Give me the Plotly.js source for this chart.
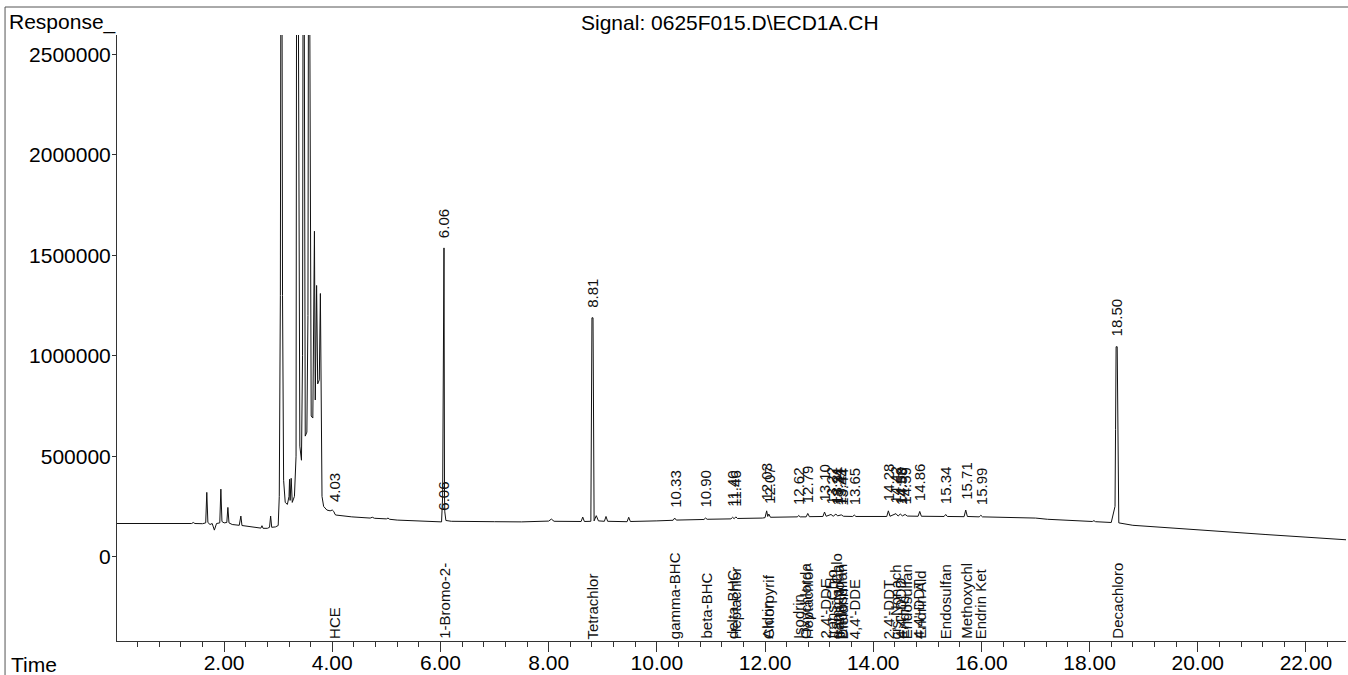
<!DOCTYPE html>
<html>
<head>
<meta charset="utf-8">
<script src="https://cdn.plot.ly/plotly-3.0.1.min.js"></script>
<style>
  html, body { margin: 0; padding: 0; background: #ffffff; }
  #chart { width: 1348px; height: 675px; }
</style>
</head>
<body>
<div id="chart"></div>
<script>
// Retention time (min) and detector response
const rtTime = [
  0.00, 0.50, 1.00, 1.40, 1.43, 1.46, 1.60, 1.66, 1.68, 1.70, 1.74, 1.78, 1.82, 1.86,
  1.92, 1.94, 1.96, 2.00, 2.05, 2.07, 2.09, 2.15, 2.28, 2.31, 2.33, 2.45, 2.60, 2.68,
  2.70, 2.72, 2.80, 2.84, 2.86, 2.88, 2.95, 3.00, 3.02, 3.04, 3.05, 3.07, 3.08, 3.10,
  3.13, 3.17, 3.20, 3.21, 3.22, 3.23, 3.24, 3.26, 3.30, 3.33, 3.34, 3.37, 3.40, 3.43,
  3.45, 3.46, 3.48, 3.50, 3.53, 3.55, 3.56, 3.58, 3.61, 3.64, 3.67, 3.685, 3.71, 3.73,
  3.76, 3.78, 3.79, 3.81, 3.84, 3.90, 3.96, 4.00, 4.03, 4.05, 4.07, 4.12, 4.36, 4.70,
  4.74, 4.78, 5.00, 5.03, 5.06, 5.20, 5.50, 5.89, 6.02, 6.04, 6.055, 6.065, 6.075, 6.08,
  6.10, 6.20, 7.00, 7.50, 8.00, 8.05, 8.10, 8.50, 8.60, 8.63, 8.66, 8.78, 8.80, 8.82,
  8.84, 8.88, 8.92, 9.03, 9.06, 9.09, 9.31, 9.45, 9.48, 9.51, 10.00, 10.30, 10.33, 10.36,
  10.87, 10.90, 10.93, 11.37, 11.40, 11.43, 11.46, 11.49, 11.95, 12.00, 12.03, 12.05, 12.07, 12.10,
  12.60, 12.62, 12.65, 12.76, 12.79, 12.82, 13.07, 13.10, 13.13, 13.22, 13.26, 13.31, 13.34, 13.41,
  13.45, 13.62, 13.65, 13.68, 14.25, 14.28, 14.31, 14.42, 14.46, 14.50, 14.54, 14.59, 14.63, 14.83,
  14.86, 14.89, 15.31, 15.34, 15.37, 15.68, 15.71, 15.74, 15.96, 15.99, 16.02, 16.33, 17.00, 17.22,
  17.80, 18.05, 18.08, 18.11, 18.40, 18.47, 18.48, 18.49, 18.51, 18.52, 18.54, 18.80, 19.40, 20.03,
  20.60, 21.26, 22.00, 22.74
];
const response = [
  165000, 165000, 165500, 165000, 170000, 165000, 164000, 168000, 320000, 170000, 160000, 165000, 132000, 165000,
  168000, 336000, 175000, 168000, 170000, 245000, 168000, 160000, 156000, 202000, 155000, 150000, 143000, 142000,
  154000, 141000, 141000, 146000, 202000, 146000, 148000, 155000, 300000, 1300000, 3000000, 3000000, 1300000, 380000,
  270000, 260000, 300000, 385000, 280000, 330000, 390000, 270000, 300000, 500000, 3000000, 3000000, 550000, 480000,
  1000000, 3000000, 3000000, 600000, 620000, 1200000, 3000000, 3000000, 700000, 690000, 1620000, 780000, 1350000, 860000,
  880000, 1310000, 700000, 300000, 250000, 232000, 228000, 232000, 224000, 210000, 207000, 205000, 198000, 192000,
  196000, 191000, 188000, 192000, 186000, 182000, 178000, 174000, 173000, 300000, 1537000, 1537000, 300000, 223000,
  180000, 176000, 174000, 173000, 177000, 187000, 176000, 174000, 175000, 197000, 175000, 176000, 1189000, 1189000,
  178000, 204000, 178000, 176000, 200000, 176000, 173000, 174000, 196000, 175000, 178000, 181000, 192000, 182000,
  185000, 192000, 186000, 188000, 196000, 189000, 198000, 190000, 192000, 194000, 228000, 200000, 212000, 196000,
  198000, 205000, 198000, 198000, 215000, 199000, 200000, 222000, 201000, 210000, 201000, 212000, 203000, 208000,
  201000, 200000, 207000, 200000, 200000, 228000, 201000, 214000, 202000, 212000, 203000, 210000, 202000, 201000,
  225000, 201000, 200000, 210000, 200000, 199000, 232000, 200000, 198000, 206000, 198000, 196000, 192000, 186000,
  178000, 175000, 179000, 174000, 170000, 250000, 632000, 1045000, 1045000, 632000, 168000, 156000, 144000, 131000,
  120000, 110000, 97000, 84000
];

// Retention-time labels printed above the peaks
const peakLabelRT = [4.03, 6.06, 8.81, 10.33, 10.90, 11.40, 11.46, 12.03, 12.07, 12.62, 12.79, 13.10,
  13.22, 13.31, 13.34, 13.41, 13.44, 13.65, 14.28, 14.42, 14.50, 14.53, 14.59, 14.86, 15.34, 15.71, 15.99, 18.50];
// Retention-time labels printed at the baseline (second integration event)
const baseLabelRT = [6.06];

// Compound names printed along the time axis
const compoundRT = [4.03, 6.06, 8.81, 10.33, 10.90, 11.40, 11.46, 12.03, 12.07, 12.62, 12.75, 12.79,
  13.10, 13.22, 13.31, 13.36, 13.41, 13.44, 13.65, 14.28, 14.42, 14.50, 14.56, 14.62, 14.83, 14.86,
  15.34, 15.71, 15.99, 18.50];
const compoundName = ["HCE", "1-Bromo-2-", "Tetrachlor", "gamma-BHC", "beta-BHC", "delta-BHC", "Heptachlor",
  "Aldrin", "Chlorpyrif", "Isodrin", "Oxychlorda", "Heptachlor", "2,4'-DDE", "trans-Chlo", "gamma-Chlo",
  "trans-Nona", "Endosulfan", "Dieldrin", "4,4'-DDE", "2,4'-DDT", "cis-Nonach", "4,4'-DDD", "Endrin",
  "Endosulfan", "4,4'-DDT", "Endrin Ald", "Endosulfan", "Methoxychl", "Endrin Ket", "Decachloro"];

const yTickVals = [0, 500000, 1000000, 1500000, 2000000, 2500000];
const signalTitle = "Signal: 0625F015.D\\ECD1A.CH";

const X_RANGE = [0.02, 22.74];
const Y_RANGE = [-420000, 2597000];
const FONT = "Liberation Sans, Arial, Helvetica, sans-serif";

function interp(t) {
  for (let i = 1; i < rtTime.length; i++) {
    if (rtTime[i] >= t) {
      const f = (t - rtTime[i - 1]) / (rtTime[i] - rtTime[i - 1]);
      return response[i - 1] + f * (response[i] - response[i - 1]);
    }
  }
  return response[response.length - 1];
}
function apexNear(t) {
  let m = interp(t);
  for (let i = 0; i < rtTime.length; i++) {
    if (Math.abs(rtTime[i] - t) <= 0.025) m = Math.max(m, response[i]);
  }
  return Math.min(m, Y_RANGE[1]);
}

const annotations = [];
peakLabelRT.forEach(t => {
  annotations.push({
    x: t, y: apexNear(t), xref: 'x', yref: 'y', text: t.toFixed(2), showarrow: false,
    textangle: -90, xanchor: 'center', yanchor: 'bottom', yshift: 8,
    font: {family: FONT, size: 15, color: '#111'}
  });
});
baseLabelRT.forEach(t => {
  annotations.push({
    x: t, y: interp(t + 0.04), xref: 'x', yref: 'y', text: t.toFixed(2), showarrow: false,
    textangle: -90, xanchor: 'center', yanchor: 'bottom', yshift: 8,
    font: {family: FONT, size: 15, color: '#111'}
  });
});
compoundRT.forEach((t, i) => {
  annotations.push({
    x: t, y: 0, xref: 'x', yref: 'paper', text: compoundName[i], showarrow: false,
    textangle: -90, xanchor: 'center', yanchor: 'bottom', yshift: 0,
    font: {family: FONT, size: 15, color: '#111'}
  });
});
annotations.push({
  x: 0.4988, y: 1.0214, xref: 'paper', yref: 'paper', text: signalTitle, showarrow: false,
  xanchor: 'center', yanchor: 'middle', font: {family: FONT, size: 21, color: '#000'}
});
annotations.push({
  x: -0.0895, y: 1.0214, xref: 'paper', yref: 'paper', text: 'Response_', showarrow: false,
  xanchor: 'left', yanchor: 'middle', font: {family: FONT, size: 21, color: '#000'}
});
annotations.push({
  x: -0.0875, y: -0.0387, xref: 'paper', yref: 'paper', text: 'Time', showarrow: false,
  xanchor: 'left', yanchor: 'middle', font: {family: FONT, size: 21, color: '#000'}
});

const shapes = [
  {type: 'line', xref: 'paper', yref: 'paper', x0: -0.0911, x1: 1.002, y0: 1.0462, y1: 1.0462,
   line: {color: '#555', width: 1}},
  {type: 'line', xref: 'paper', yref: 'paper', x0: -0.0911, x1: -0.0911, y0: 1.0462, y1: -0.06,
   line: {color: '#555', width: 1}}
];

const trace = {
  x: rtTime, y: response, type: 'scatter', mode: 'lines',
  line: {color: '#111', width: 1}, hoverinfo: 'skip'
};

const layout = {
  width: 1348, height: 675,
  margin: {l: 117, r: 2, t: 35, b: 33.5, pad: 0},
  paper_bgcolor: '#fff', plot_bgcolor: '#fff',
  showlegend: false,
  font: {family: FONT, size: 21, color: '#000'},
  xaxis: {
    range: X_RANGE, showgrid: false, zeroline: false, showline: true, linecolor: '#333', linewidth: 1,
    ticks: 'outside', ticklen: 10, tickcolor: '#333', tick0: 0, dtick: 2, tickformat: '.2f',
    ticklabelstandoff: -7,
    tickfont: {family: FONT, size: 21, color: '#000'},
    minor: {ticks: 'outside', ticklen: 5, tickcolor: '#333', dtick: 0.4, tick0: 0, showgrid: false}
  },
  yaxis: {
    range: Y_RANGE, showgrid: false, zeroline: false, showline: true, linecolor: '#333', linewidth: 1,
    ticks: 'outside', ticklen: 4, tickcolor: '#333', tickvals: yTickVals, tickformat: 'd',
    ticklabelstandoff: -3,
    tickfont: {family: FONT, size: 21, color: '#000'}
  },
  annotations: annotations,
  shapes: shapes
};

Plotly.newPlot('chart', [trace], layout, {staticPlot: true, displayModeBar: false});
</script>
</body>
</html>
